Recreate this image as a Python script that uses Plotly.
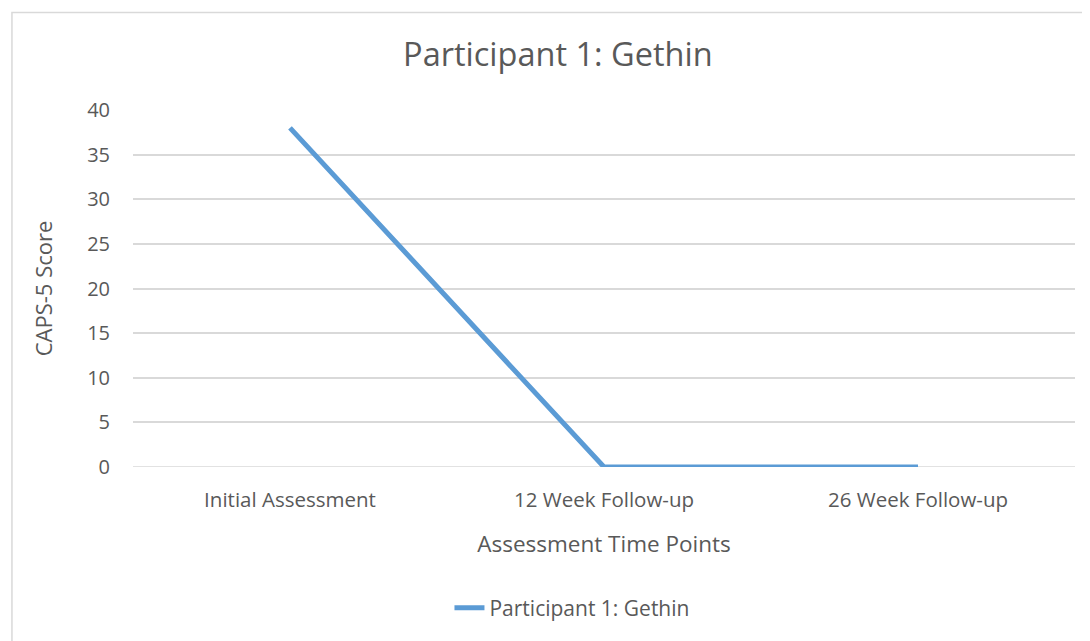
import plotly.graph_objects as go

# data
time_points = ['Initial Assessment', '12 Week Follow-up', '26 Week Follow-up']
caps5_scores = [38, 0, 0]
y_ticks = [0, 5, 10, 15, 20, 25, 30, 35, 40]

fig = go.Figure()

fig.add_trace(go.Scatter(
    x=time_points,
    y=caps5_scores,
    mode='lines',
    name='Participant 1: Gethin',
    line=dict(color='#5B9BD5', width=5),
))

font_family = 'Open Sans, Noto Sans, sans-serif'
grey = '#595959'

# page body adds an 8px margin, so the figure is 8px smaller than the window
fig.update_layout(
    width=1082,
    height=633,
    margin=dict(l=125, r=15, t=102, b=169),
    paper_bgcolor='white',
    plot_bgcolor='white',
    font=dict(family=font_family, color=grey),
    title=dict(
        text='Participant 1: Gethin',
        x=0.451, xref='paper', xanchor='center',
        y=1 - 47 / 633, yref='container', yanchor='middle',
        font=dict(size=32.5, color=grey),
    ),
    showlegend=True,
    legend=dict(
        orientation='h',
        x=0.466, xanchor='center',
        y=-0.3955, yanchor='middle',
        font=dict(size=21, color=grey),
    ),
    xaxis=dict(
        type='category',
        range=[-0.5, 2.5],
        automargin=False,
        showgrid=False,
        showline=False,
        ticks='',
        ticklabelstandoff=18,
        tickfont=dict(size=20.5, color=grey),
        title=dict(text='Assessment Time Points', font=dict(size=22.5, color=grey), standoff=24),
    ),
    yaxis=dict(
        range=[0, 40],
        tickvals=y_ticks,
        automargin=False,
        showgrid=True,
        gridcolor='#D9D9D9',
        gridwidth=1.5,
        zeroline=False,
        showline=False,
        ticks='',
        ticklabelstandoff=22,
        tickfont=dict(size=20, color=grey),
        title=dict(text='CAPS-5 Score', font=dict(size=22, color=grey), standoff=28),
    ),
    shapes=[dict(
        type='rect', xref='paper', yref='paper',
        x0=-0.1285, x1=1.1, y0=-0.6, y1=1.273,
        line=dict(color='#D9D9D9', width=1.5),
        layer='below',
    )],
)

# zero gridline drawn like the others
fig.add_hline(y=0, line=dict(color='#D9D9D9', width=1.5), layer='below')

fig.write_html('out.html')
